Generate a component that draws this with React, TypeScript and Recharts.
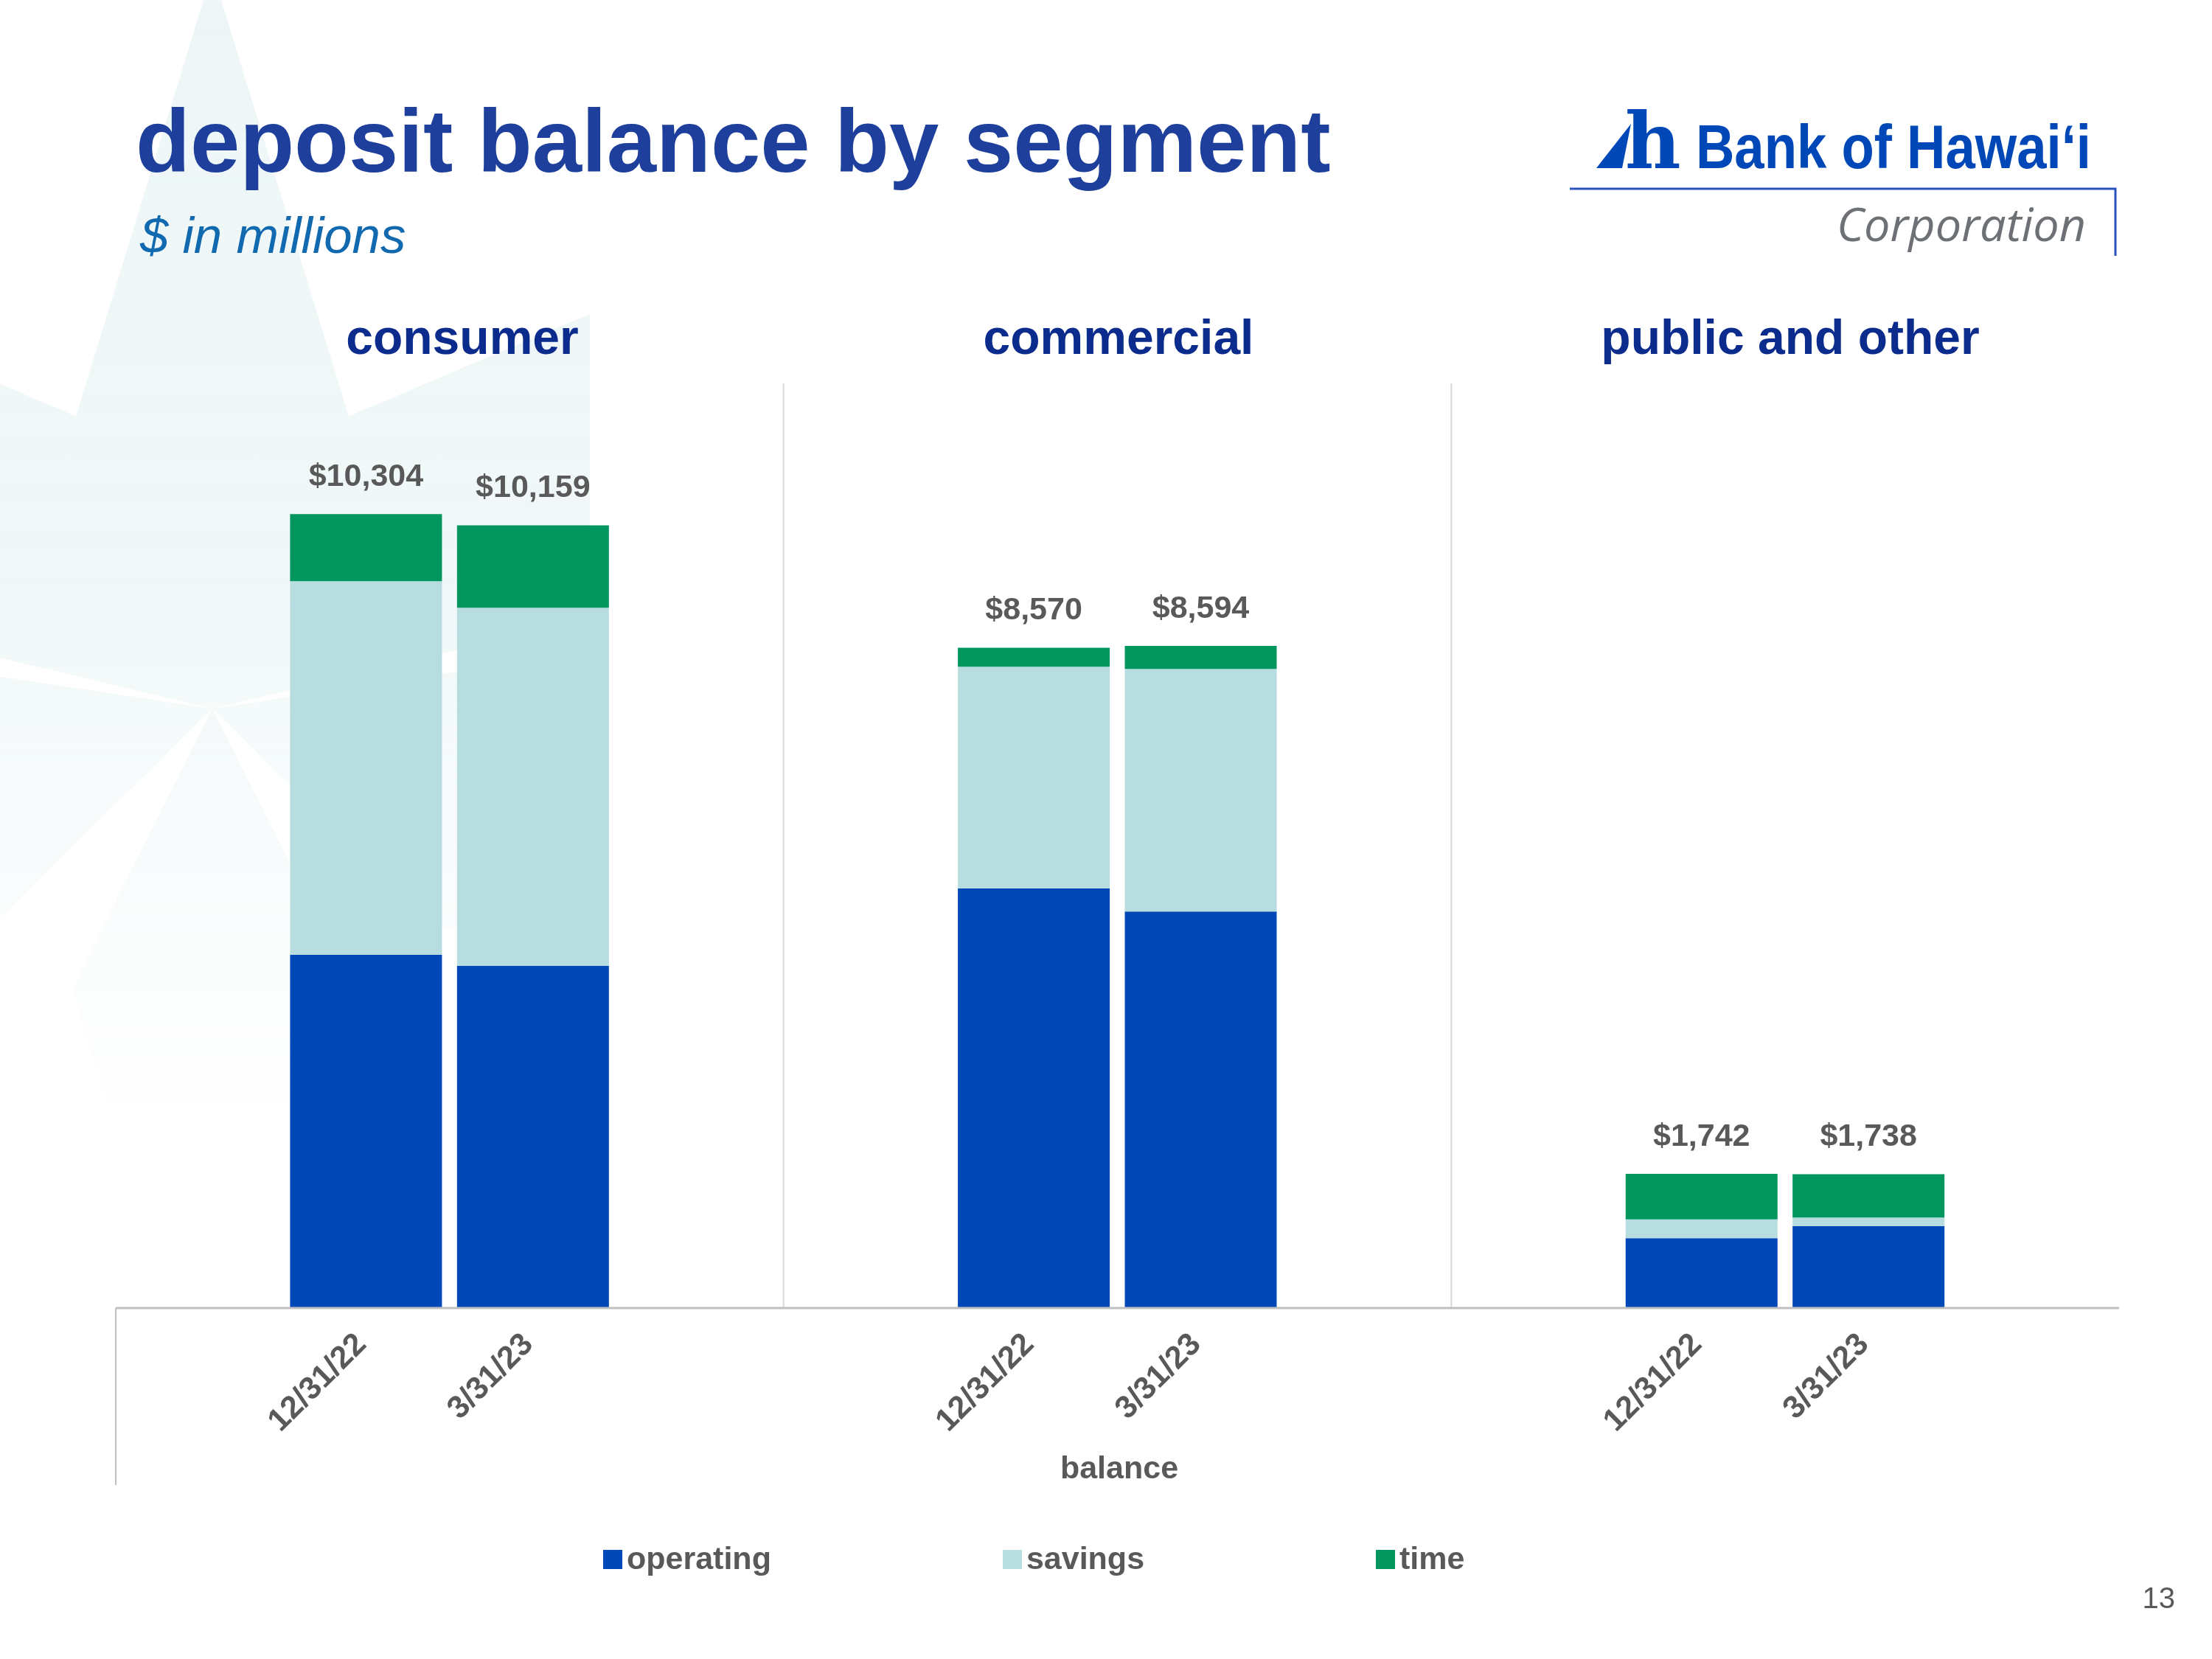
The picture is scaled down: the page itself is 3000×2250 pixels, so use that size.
import React from 'react'
import { Bar, BarChart, CartesianGrid, LabelList, XAxis, YAxis } from 'recharts'

// Deposit balance by segment, $ in millions. Stacked bars, two period-end
// dates per segment, with an empty slot either side of each pair the way the
// source slide's multi-level category axis lays them out.

const segments = ['consumer', 'commercial', 'public and other']
const periods = ['12/31/22', '3/31/23']

// one value per segment x period, in segment order
const operating = [4583, 4439, 5444, 5147, 906, 1062]
const savings = [4851, 4650, 2880, 3148, 245, 112]
const time = [870, 1070, 246, 299, 591, 564]
const totals = [10304, 10159, 8570, 8594, 1742, 1738]

const legendItems = [
  { key: 'operating', label: 'operating', color: '#0047B7' },
  { key: 'savings', label: 'savings', color: '#B7DDE0' },
  { key: 'time', label: 'time', color: '#00965E' },
]

const GRAY = '#595959'
const FONT = '"Liberation Sans", Arial, Helvetica, sans-serif'

interface Row {
  key: string
  label: string
  operating: number
  savings: number
  time: number
  total: number | null
}

const rows: Row[] = []
segments.forEach((seg, s) => {
  rows.push({ key: `${seg}-pad-l`, label: '', operating: 0, savings: 0, time: 0, total: null })
  periods.forEach((p, j) => {
    const i = s * periods.length + j
    rows.push({
      key: `${seg}-${p}`,
      label: p,
      operating: operating[i],
      savings: savings[i],
      time: time[i],
      total: totals[i],
    })
  })
  rows.push({ key: `${seg}-pad-r`, label: '', operating: 0, savings: 0, time: 0, total: null })
})

function DateTick(props: any) {
  const { x, y, payload } = props
  const idx = payload?.index ?? props.index
  const label = rows[idx]?.label
  if (!label) return null
  const tx = x + 2
  const ty = y + 51
  return (
    <text
      x={tx}
      y={ty}
      transform={`rotate(-45, ${tx}, ${ty})`}
      textAnchor="end"
      fill={GRAY}
      fontSize={43}
      fontWeight={700}
      fontFamily={FONT}
    >
      {label}
    </text>
  )
}

// faint snowflake decoration on the slide background
const rayAngles = [-90, -40, 18, 90, 162, 220]

function Backdrop() {
  return (
    <svg width={3000} height={2250} style={{ position: 'absolute', left: 0, top: 0 }}>
      <defs>
        <linearGradient id="bgFade" x1="0" y1="0" x2="0" y2="1">
          <stop offset="0" stopColor="#fff" stopOpacity={1} />
          <stop offset="0.35" stopColor="#fff" stopOpacity={0.8} />
          <stop offset="0.68" stopColor="#fff" stopOpacity={0} />
        </linearGradient>
        <mask id="bgMask">
          <rect x={0} y={0} width={800} height={2250} fill="url(#bgFade)" />
        </mask>
      </defs>
      <g mask="url(#bgMask)" fill="#E8F3F4" opacity={0.75}>
        {rayAngles.map((a) => (
          <polygon
            key={a}
            points="0,0 190,380 0,1000 -190,380"
            transform={`translate(288, 961) rotate(${a - 90})`}
          />
        ))}
      </g>
    </svg>
  )
}

function Overlay() {
  return (
    <svg
      width={3000}
      height={2250}
      style={{ position: 'absolute', left: 0, top: 0, pointerEvents: 'none' }}
      fontFamily={FONT}
    >
      <text x={184} y={233} fontSize={121} fontWeight={700} fill="#1E3F9B">
        deposit balance by segment
      </text>
      <text x={190} y={343} fontSize={69} fontStyle="italic" fill="#1169B0">
        $ in millions
      </text>

      {/* logo */}
      <polygon points="2165,228 2200,228 2212,168" fill="#0047B7" />
      <text x={2204} y={228} fontSize={104} fontWeight={700} fill="#0047B7" fontFamily='"DejaVu Serif", serif'>
        h
      </text>
      <text
        x={2300}
        y={228}
        fontSize={84}
        fontWeight={700}
        fill="#0047B7"
        textLength={536}
        lengthAdjust="spacingAndGlyphs"
      >
        Bank of Hawaiʻi
      </text>
      <polyline points="2129,256 2869,256 2869,347" fill="none" stroke="#2A52BE" strokeWidth={3} />
      <text
        x={2491}
        y={327}
        fontSize={62}
        fill="#6D7175"
        fontStyle="italic"
        fontFamily='"Open Sans", sans-serif'
        textLength={338}
        lengthAdjust="spacingAndGlyphs"
      >
        Corporation
      </text>

      {/* segment headers */}
      {segments.map((seg, s) => (
        <text
          key={seg}
          x={[627, 1517, 2428][s]}
          y={480}
          fontSize={66}
          fontWeight={700}
          fill="#0B2C8C"
          textAnchor="middle"
        >
          {seg}
        </text>
      ))}

      {/* outer category level */}
      <line x1={157} y1={1774} x2={157} y2={2014} stroke="#BFBFBF" strokeWidth={2} />
      <text x={1518} y={2005} fontSize={43} fontWeight={700} fill={GRAY} textAnchor="middle">
        balance
      </text>

      <text x={2950} y={2181} fontSize={40} fill={GRAY} textAnchor="end">
        13
      </text>
    </svg>
  )
}

function LegendRow() {
  return (
    <div
      style={{
        position: 'absolute',
        left: 818,
        top: 2088,
        display: 'flex',
        alignItems: 'flex-end',
        fontFamily: FONT,
        fontSize: 43,
        fontWeight: 700,
        color: GRAY,
        lineHeight: '50px',
      }}
    >
      {legendItems.map((it, i) => (
        <div
          key={it.key}
          style={{ display: 'flex', alignItems: 'center', marginRight: i < legendItems.length - 1 ? 314 : 0 }}
        >
          <span style={{ width: 26, height: 26, background: it.color, marginRight: 6, marginTop: 4 }} />
          <span>{it.label}</span>
        </div>
      ))}
    </div>
  )
}

export default function App() {
  return (
    <div
      style={{
        position: 'absolute',
        left: 0,
        top: 0,
        width: 3000,
        height: 2250,
        background: '#fff',
        overflow: 'hidden',
        fontFamily: FONT,
      }}
    >
      <Backdrop />
      <div style={{ position: 'absolute', left: 0, top: 0 }}>
        <BarChart
          width={3000}
          height={2250}
          data={rows}
          margin={{ top: 520, right: 126, bottom: 376, left: 157 }}
          barCategoryGap={10}
        >
          <CartesianGrid
            horizontal={false}
            stroke="#D9D9D9"
            strokeWidth={2}
            verticalCoordinatesGenerator={({ offset }: any) =>
              [1, 2].map((k) => offset.left + (offset.width * k) / segments.length)
            }
          />
          <XAxis
            dataKey="key"
            type="category"
            interval={0}
            height={100}
            tickLine={false}
            tickSize={0}
            tickMargin={0}
            axisLine={{ stroke: '#BFBFBF', strokeWidth: 3 }}
            tick={<DateTick />}
          />
          <YAxis hide domain={[0, 12000]} />
          <Bar dataKey="operating" stackId="a" fill={legendItems[0].color} isAnimationActive={false} />
          <Bar dataKey="savings" stackId="a" fill={legendItems[1].color} isAnimationActive={false} />
          <Bar dataKey="time" stackId="a" fill={legendItems[2].color} isAnimationActive={false}>
            <LabelList
              dataKey="total"
              position="top"
              offset={38}
              fill={GRAY}
              fontSize={43}
              fontWeight={700}
              formatter={(v: any) => (v == null ? '' : `$${Number(v).toLocaleString('en-US')}`)}
            />
          </Bar>
        </BarChart>
      </div>
      <Overlay />
      <LegendRow />
    </div>
  )
}
